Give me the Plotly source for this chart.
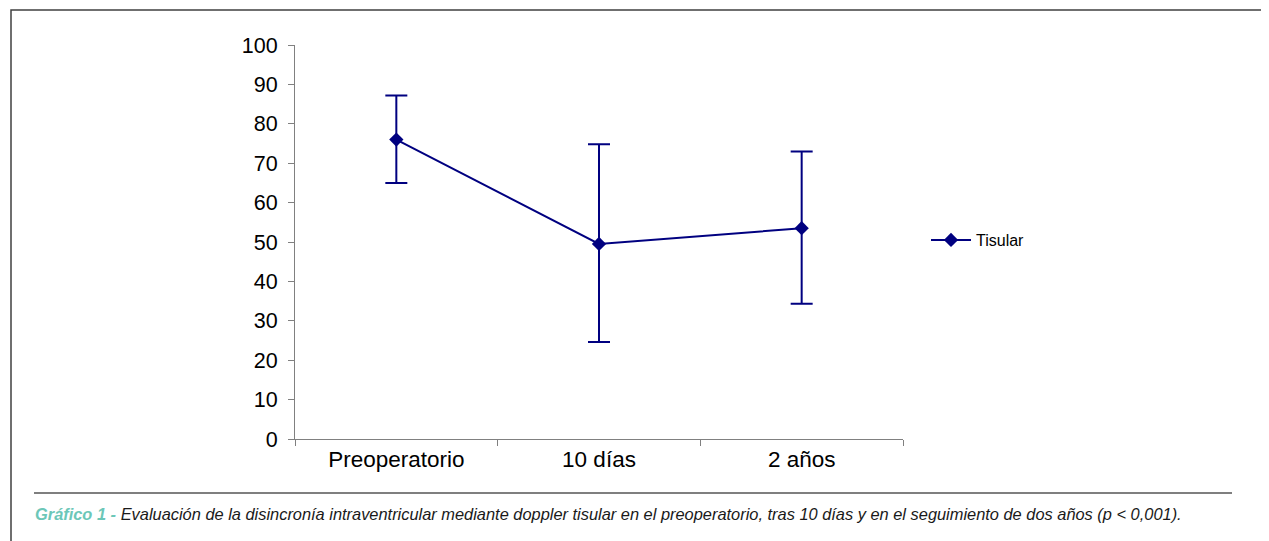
import plotly.graph_objects as go

categories = ["Preoperatorio", "10 días", "2 años"]
tisular = [76, 49.5, 53.5]
err_plus = [11.2, 25.3, 19.5]
err_minus = [11.0, 24.9, 19.2]
y_ticks = [0, 10, 20, 30, 40, 50, 60, 70, 80, 90, 100]

OFF = 8  # page body margin
W, H = 1269 - OFF, 541 - OFF
L, R, T, B = 295 - OFF, 903 - OFF, 45 - OFF, 439 - OFF  # plot area pixels

def px(x):
    return (x - OFF - L) / (R - L)

def py(y):
    return (B - (y - OFF)) / (B - T)

NAVY = "#000080"

fig = go.Figure()
fig.add_trace(go.Scatter(
    x=categories, y=tisular, name="Tisular", mode="lines+markers",
    line=dict(color=NAVY, width=2),
    marker=dict(symbol="diamond", size=11, color=NAVY),
    error_y=dict(type="data", symmetric=False, array=err_plus, arrayminus=err_minus,
                 color=NAVY, thickness=2, width=11),
))

fig.update_layout(
    width=W, height=H,
    margin=dict(l=L, r=W - R, t=T, b=H - B, pad=0),
    paper_bgcolor="white", plot_bgcolor="white",
    font=dict(family="Liberation Sans, Arial, sans-serif", color="black", size=20),
    showlegend=True,
    legend=dict(x=px(926), y=py(240), xanchor="left", yanchor="middle",
                font=dict(size=16, color="black"), bgcolor="rgba(0,0,0,0)",
                itemwidth=40, tracegroupgap=0),
    xaxis=dict(type="category", showgrid=False, showline=True, linecolor="#808080",
               linewidth=1, ticks="outside", tickson="boundaries", ticklen=6,
               tickcolor="#808080", tickfont=dict(size=22.5), range=[-0.5, 2.5]),
    yaxis=dict(range=[0, 100], tickvals=y_ticks, showgrid=False, showline=True,
               linecolor="#808080", linewidth=1, ticks="outside", ticklen=6,
               tickcolor="#808080", tickfont=dict(size=21.5), zeroline=False,
               ticklabelstandoff=6),
)

# outer frame
fig.add_shape(type="rect", xref="paper", yref="paper",
              x0=px(11), x1=px(1266), y0=py(560), y1=py(10),
              line=dict(color="#404040", width=1.5), fillcolor="rgba(0,0,0,0)", layer="below")
# caption rule
fig.add_shape(type="line", xref="paper", yref="paper",
              x0=px(34), x1=px(1232), y0=py(493), y1=py(493),
              line=dict(color="#555555", width=1.5))
fig.add_annotation(
    xref="paper", yref="paper", x=px(33), y=py(514), xanchor="left", yanchor="middle",
    showarrow=False,
    text=("<b><i><span style='color:#6cc7b8'>Gráfico 1 -</span></i></b> "
          "<i>Evaluación de la disincronía intraventricular mediante doppler tisular en el "
          "preoperatorio, tras 10 días y en el seguimiento de dos años (p &lt; 0,001).</i>"),
    font=dict(family="Liberation Sans, Arial, sans-serif", size=16.4, color="#1a1a1a"),
)

fig.write_html("out.html")
